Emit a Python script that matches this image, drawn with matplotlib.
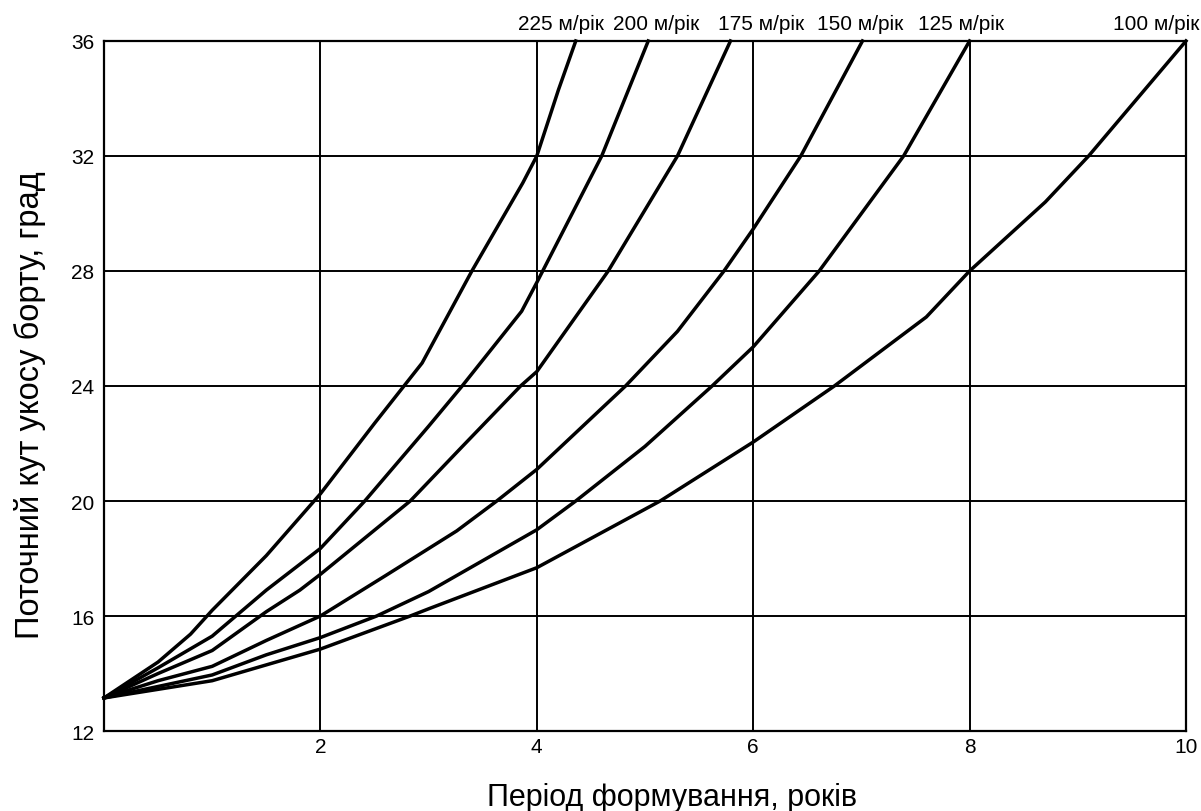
import numpy as np
import matplotlib
matplotlib.use("Agg")
import matplotlib.pyplot as plt
from matplotlib import font_manager

plt.rcParams['font.family'] = ['Liberation Sans', 'DejaVu Sans']

# narrow face for the axis titles if it is installed
names = {f.name for f in font_manager.fontManager.ttflist}
if 'Liberation Sans Narrow' in names:
    title_font = ['Liberation Sans Narrow', 'Liberation Sans', 'DejaVu Sans']
    xlab_size, ylab_size = 26.5, 28
else:
    title_font = ['Liberation Sans', 'DejaVu Sans']
    xlab_size, ylab_size = 22, 23.5

# швидкості посування фронту, м/рік
labels = ['225 м/рік', '200 м/рік', '175 м/рік', '150 м/рік', '125 м/рік', '100 м/рік']
label_x = [4.22, 5.10, 6.07, 6.99, 7.92, 9.72]

# period (years) / slope angle (deg)
x_225 = [0, 0.5, 0.8, 1.0, 1.5, 2.0, 2.5, 2.94, 3.4, 3.87, 4.0, 4.2, 4.36]
y_225 = [13.15, 14.4, 15.37, 16.2, 18.1, 20.25, 22.7, 24.8, 28.0, 31.06, 32.0, 34.3, 36.0]

x_200 = [0, 0.5, 1.0, 1.5, 2.0, 2.41, 3.0, 3.31, 3.86, 4.0, 4.3, 4.6, 5.03]
y_200 = [13.15, 14.2, 15.3, 16.9, 18.35, 20.0, 22.6, 24.0, 26.6, 27.6, 29.8, 32.0, 36.0]

x_175 = [0, 0.5, 1.0, 1.5, 1.81, 2.0, 2.83, 3.3, 3.85, 4.0, 4.66, 5.3, 5.79]
y_175 = [13.15, 14.0, 14.8, 16.15, 16.9, 17.45, 20.0, 21.85, 24.0, 24.5, 28.0, 32.0, 36.0]

x_150 = [0, 0.5, 1.0, 1.5, 2.0, 2.6, 3.26, 3.63, 4.0, 4.82, 5.3, 5.73, 6.0, 6.44, 7.01]
y_150 = [13.15, 13.75, 14.25, 15.15, 16.0, 17.4, 18.96, 20.0, 21.1, 24.0, 25.9, 28.0, 29.46, 32.0, 36.0]

x_125 = [0, 0.5, 1.0, 1.5, 2.0, 2.52, 3.0, 4.0, 4.36, 5.0, 5.62, 6.0, 6.61, 7.0, 7.39, 8.0]
y_125 = [13.15, 13.55, 13.95, 14.65, 15.25, 16.0, 16.85, 19.0, 20.0, 21.9, 24.0, 25.36, 28.0, 30.0, 32.0, 36.0]

x_100 = [0, 0.5, 1.0, 1.5, 2.0, 2.83, 3.0, 4.0, 5.14, 6.0, 6.75, 7.6, 8.0, 8.7, 9.1, 10.0]
y_100 = [13.15, 13.45, 13.75, 14.3, 14.85, 16.0, 16.25, 17.68, 20.0, 22.05, 24.0, 26.4, 28.0, 30.4, 32.0, 36.0]

series_x = [x_225, x_200, x_175, x_150, x_125, x_100]
series_y = [y_225, y_200, y_175, y_150, y_125, y_100]

fig = plt.figure(figsize=(12.01, 8.12), dpi=100)
ax = fig.add_axes([0.0866, 0.0985, 0.9009, 0.8498])

for xs, ys in zip(series_x, series_y):
    ax.plot(xs, ys, color='black', lw=2.5, solid_joinstyle='round', clip_on=False, zorder=3)

for lab, lx in zip(labels, label_x):
    ax.text(lx, 36.62, lab, ha='center', va='center', fontsize=15, clip_on=False)

ax.set_xlim(0, 10)
ax.set_ylim(12, 36)
ax.set_xticks([2, 4, 6, 8, 10])
ax.set_yticks(np.arange(12, 37, 4))
ax.grid(True, color='black', lw=1.4)
ax.tick_params(length=0, labelsize=15)
ax.tick_params(axis='y', pad=7)
ax.tick_params(axis='x', pad=4)
for s in ax.spines.values():
    s.set_linewidth(1.6)

fig.text(672 / 1201, 1 - 806 / 812, 'Період формування, років', family=title_font,
         fontsize=xlab_size, ha='center', va='baseline')
fig.text(30 / 1201, 1 - 405 / 812, 'Поточний кут укосу борту, град', family=title_font,
         fontsize=ylab_size, rotation=90, ha='center', va='center')

fig.savefig('out.png', dpi=100)
